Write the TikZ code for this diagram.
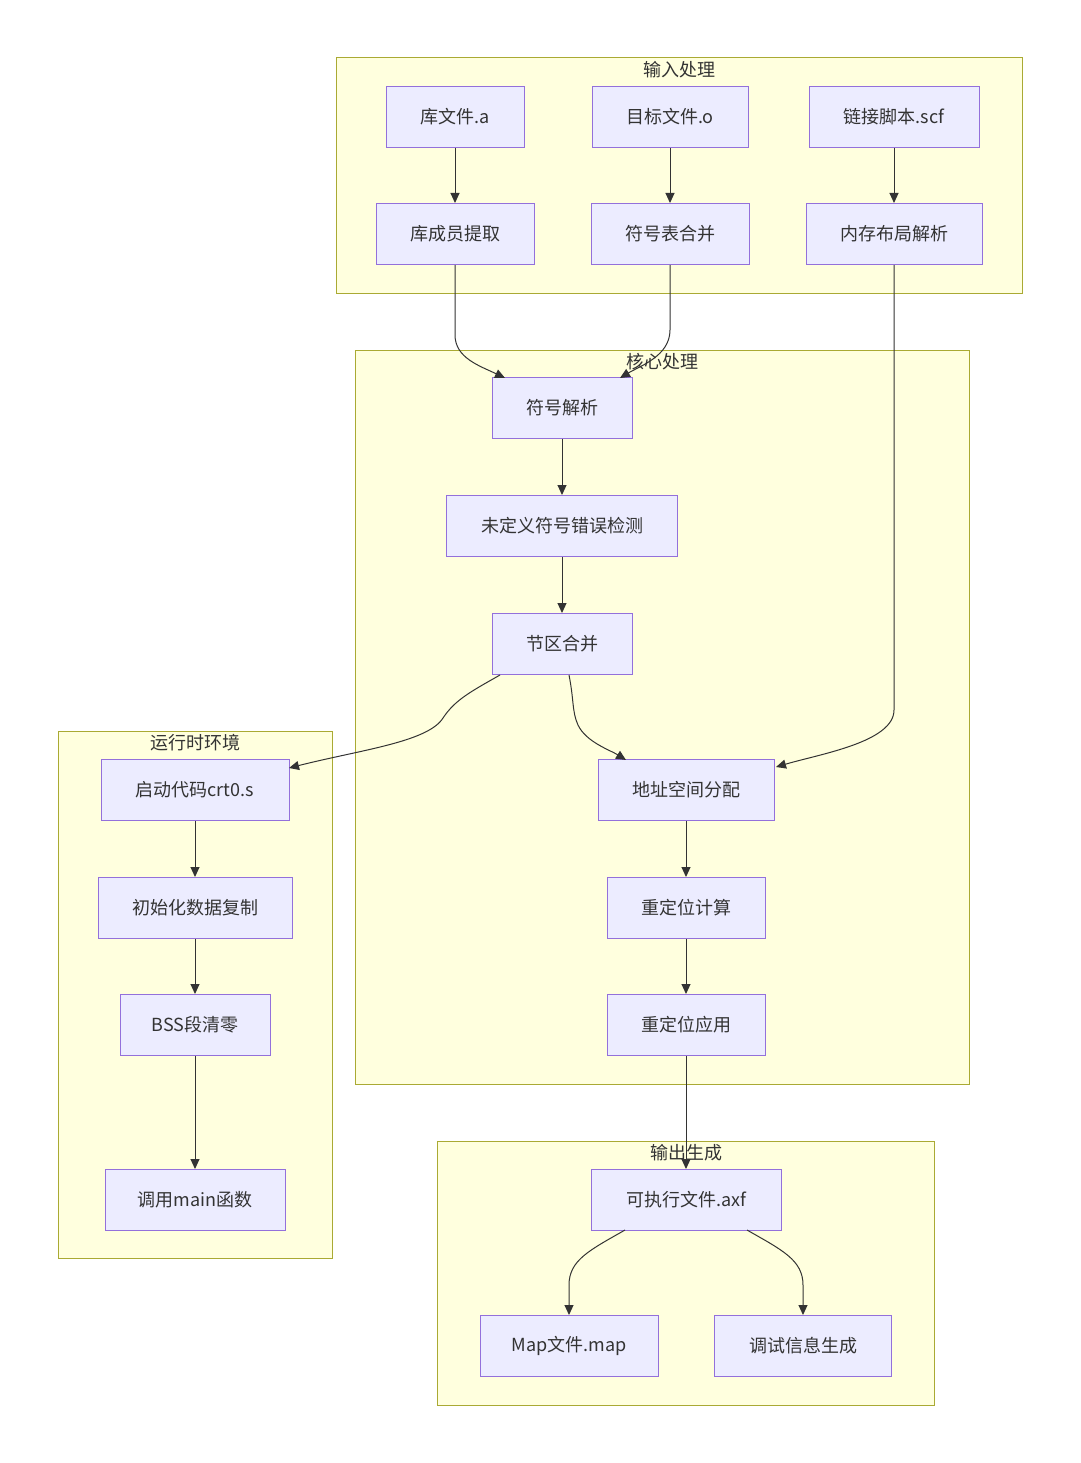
\documentclass[tikz,border=0pt]{standalone}
\usepackage{fontspec}
\setmainfont{Noto Sans CJK SC}
\usetikzlibrary{arrows.meta}
\definecolor{clfill}{HTML}{FFFFDE}
\definecolor{cldraw}{HTML}{AAAA33}
\definecolor{ndfill}{HTML}{ECECFF}
\definecolor{nddraw}{HTML}{9370DB}
\definecolor{txt}{HTML}{333333}
\tikzset{
  cluster/.style={draw=cldraw, fill=clfill, line width=1pt},
  cltitle/.style={text=txt, font=\fontsize{18}{21}\selectfont, inner sep=0pt},
  box/.style={draw=nddraw, fill=ndfill, line width=1pt, text=txt, font=\fontsize{18}{21}\selectfont, minimum height=61pt, inner sep=0pt},
  link/.style={draw=txt, line width=1pt, -{Triangle[length=10pt,width=9pt]}},
}
\begin{document}
\begin{tikzpicture}[x=1pt,y=-1pt]
\useasboundingbox (0,0) rectangle (1080,1463);
% clusters
\draw[cluster] (336,58) rectangle (1022,293);
\node[cltitle] (t1) at (679,70) {输入处理};
\draw[cluster] (355,350) rectangle (969,1084);
\draw[cluster] (58,731) rectangle (332,1258);
\node[cltitle] (t3) at (195,743) {运行时环境};
\draw[cluster] (437,1141) rectangle (934,1405);
% input nodes
\node[box, minimum width=138pt] (lib) at (455,117) {库文件.a};
\node[box, minimum width=156pt] (obj) at (670,117) {目标文件.o};
\node[box, minimum width=170pt] (scf) at (894,117) {链接脚本.scf};
\node[box, minimum width=158pt] (mem) at (455,234) {库成员提取};
\node[box, minimum width=158pt] (sym) at (670,234) {符号表合并};
\node[box, minimum width=176pt] (lay) at (894,234) {内存布局解析};
% core nodes
\node[box, minimum width=140pt] (res) at (562,408) {符号解析};
\node[box, minimum width=231pt] (und) at (562,526) {未定义符号错误检测};
\node[box, minimum width=140pt] (sec) at (562,644) {节区合并};
\node[box, minimum width=176pt] (adr) at (686,790) {地址空间分配};
\node[box, minimum width=158pt] (rc) at (686,908) {重定位计算};
\node[box, minimum width=158pt] (ra) at (686,1025) {重定位应用};
% runtime nodes
\node[box, minimum width=188pt] (crt) at (195,790) {启动代码crt0.s};
\node[box, minimum width=194pt] (ini) at (195,908) {初始化数据复制};
\node[box, minimum width=150pt] (bss) at (195,1025) {BSS段清零};
\node[box, minimum width=180pt] (mainf) at (195,1200) {调用main函数};
% output nodes
\node[box, minimum width=190pt] (axf) at (686,1200) {可执行文件.axf};
\node[box, minimum width=178pt] (map) at (569,1346) {Map文件.map};
\node[box, minimum width=177pt] (dbg) at (803,1346) {调试信息生成};
% edges
\draw[link] (lib) -- (mem);
\draw[link] (obj) -- (sym);
\draw[link] (scf) -- (lay);
\coordinate (c1) at (505,378);
\coordinate (c2) at (620,378);
\draw[link] (mem.south) -- (455,335) .. controls (455,358) and (480,366) .. (c1);
\draw[link] (sym.south) -- (670,330) .. controls (670,356) and (640,366) .. (c2);
\coordinate (c3) at (776,767);
\draw[link] (lay.south) -- (894,710) .. controls (894,742) and (820,754) .. (c3);
\draw[link] (res) -- (und);
\draw[link] (und) -- (sec);
\coordinate (s1) at (500,675);
\coordinate (c4) at (289,768);
\draw[link] (s1) .. controls (470,692) and (455,700) .. (443,718) .. controls (428,742) and (360,750) .. (c4);
\coordinate (s2) at (569,675);
\coordinate (c5) at (626,760);
\draw[link] (s2) .. controls (574,700) and (572,712) .. (578,725) .. controls (586,742) and (610,750) .. (c5);
\draw[link] (adr) -- (rc);
\draw[link] (rc) -- (ra);
\draw[link] (ra) -- (axf);
\draw[link] (crt) -- (ini);
\draw[link] (ini) -- (bss);
\draw[link] (bss) -- (mainf);
\coordinate (a1) at (625,1230);
\coordinate (a2) at (747,1230);
\draw[link] (a1) .. controls (590,1250) and (569,1260) .. (569,1285) -- (map.north);
\draw[link] (a2) .. controls (782,1250) and (803,1260) .. (803,1285) -- (dbg.north);
% titles drawn above edges
\node[cltitle] (t2) at (662,362) {核心处理};
\node[cltitle] (t4) at (686,1153) {输出生成};
\end{tikzpicture}
\end{document}
